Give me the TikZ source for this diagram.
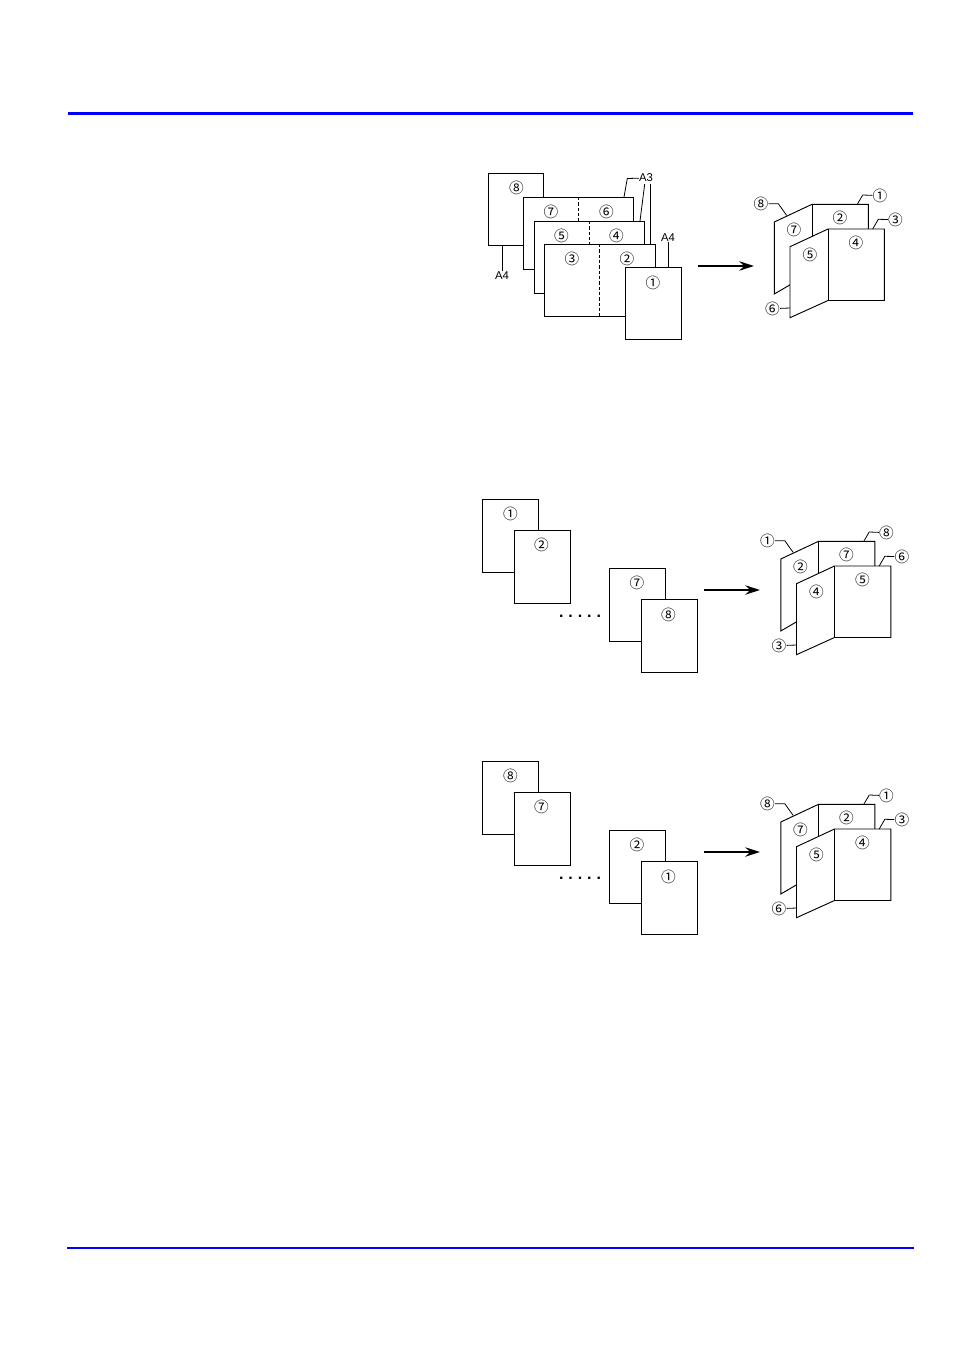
\documentclass[tikz,border=0pt]{standalone}
\usepackage{fontspec}
\setmainfont{Liberation Sans}
\newfontfamily\circfont{Noto Sans CJK JP}
\usetikzlibrary{arrows.meta}
\tikzset{
    pagesheet/.style={rectangle,draw,fill=white,line width=0.7pt,anchor=north west,inner sep=0pt,outer sep=0pt},
    singlesheet/.style={pagesheet,minimum width=41.9pt,minimum height=54.6pt},
    widesheet/.style={pagesheet,minimum width=83.1pt,minimum height=54.4pt},
    pagenum/.style={inner sep=0pt,yshift=-0.5pt,font=\fontsize{11}{11}\circfont},
    sizelabel/.style={inner sep=0pt,font=\fontsize{8.5}{8.5}\selectfont},
    leader/.style={line width=0.6pt},
    fold/.style={line width=0.7pt},
    bigarrow/.style={line width=1.3pt,-{Stealth[length=11pt,width=7pt]}},
    bluerule/.style={draw=blue}
}
% the folded set: outer labels 8 1 3 6, inner labels 7 2 5 4
\newcommand{\foldedset}[8]{
    \coordinate (backleft) at (774.3,222);
    \coordinate (backfold) at (812,204.3);
    \coordinate (backright) at (868.3,204.3);
    \coordinate (frontleft) at (790,246.7);
    \coordinate (frontfold) at (828,229);
    \coordinate (frontright) at (884.3,229);
    \draw[fold,fill=white] (backleft) -- (backfold) -- (backright) -- (868.3,272) -- (812,272) -- (774.3,294) -- cycle;
    \draw[fold] (backfold) -- (812,272);
    \draw[fold,fill=white] (frontleft) -- (frontfold) -- (frontright) -- (884.3,300.5) -- (828,300.5) -- (790,317.7) -- cycle;
    \draw[fold] (frontfold) -- (828,300.5);
    \node[pagenum] (outa) at (761,203) {#1};
    \node[pagenum] (outb) at (880,195) {#2};
    \node[pagenum] (outc) at (895.5,219) {#3};
    \node[pagenum] (outd) at (772.5,308) {#4};
    \node[pagenum] (ina) at (794,229.5) {#5};
    \node[pagenum] (inb) at (840,217.5) {#6};
    \node[pagenum] (inc) at (810,254) {#7};
    \node[pagenum] (ind) at (856,242) {#8};
    \draw[leader] (outa) -- (778.3,203.7) -- (786.7,215.5);
    \draw[leader] (outb) -- (862.7,195) -- (857.3,204.3);
    \draw[leader] (outc) -- (878.3,219.3) -- (872.7,229);
    \draw[leader] (outd) -- (790,308);
}
% two sheets, dots, two sheets
\newcommand{\pagerun}[4]{
    \node[singlesheet] (first) at (482.3,499.3) {};
    \node[singlesheet] (second) at (514.3,530.7) {};
    \node[singlesheet] (third) at (609.7,568.3) {};
    \node[singlesheet] (fourth) at (641.3,599.3) {};
    \node[pagenum] (numa) at (510.5,513.5) {#1};
    \node[pagenum] (numb) at (541.5,544.5) {#2};
    \node[pagenum] (numc) at (637,582.5) {#3};
    \node[pagenum] (numd) at (668.5,614) {#4};
    \node[inner sep=0pt,font=\fontsize{12}{12}\bfseries] (dots) at (580,616.5) {.\hspace{3.7pt}.\hspace{3.7pt}.\hspace{3.7pt}.\hspace{3.7pt}.};
}
\begin{document}
\begin{tikzpicture}[x=0.75pt,y=-0.75pt]
\useasboundingbox (0,0) rectangle (954,1351);
\coordinate (topl) at (68,113.5);
\coordinate (topr) at (913,113.5);
\coordinate (botl) at (67,1248);
\coordinate (botr) at (914,1248);
\draw[bluerule,line width=2.2pt] (topl) -- (topr);
\draw[bluerule,line width=1.4pt] (botl) -- (botr);

% mixed A3 and A4 originals
\node[sizelabel] (athree) at (646,178) {A3};
\node[sizelabel] (afourl) at (502,275.5) {A4};
\node[sizelabel] (afourr) at (668,238) {A4};
\draw[leader] (athree) -- (627.3,178.5) -- (624,197);
\draw[leader] (640,221) -- (644.7,184);
\draw[leader] (650,184) -- (650,244);
\node[singlesheet] (seight) at (488,173) {};
\draw[leader] (afourl) -- (afourl |- seight.south);
\node[widesheet] (ssix) at (523,197) {};
\draw[fold,dashed,dash pattern=on 2.5pt off 1.5pt] (ssix.north) -- (ssix.south);
\node[widesheet] (sfour) at (534,221) {};
\draw[fold,dashed,dash pattern=on 2.5pt off 1.5pt] (sfour.north) -- (sfour.south);
\node[widesheet] (stwo) at (544.3,244) {};
\draw[fold,dashed,dash pattern=on 2.5pt off 1.5pt] (stwo.north) -- (stwo.south);
\node[singlesheet] (sone) at (625.3,267) {};
\draw[leader] (afourr) -- (afourr |- sone.north);
\node[pagenum] (neight) at (516.5,187.5) {⑧};
\node[pagenum] (nseven) at (551,211.5) {⑦};
\node[pagenum] (nsix) at (606.5,211.5) {⑥};
\node[pagenum] (nfive) at (561.5,235) {⑤};
\node[pagenum] (nfour) at (616.5,235) {④};
\node[pagenum] (nthree) at (572,258) {③};
\node[pagenum] (ntwo) at (627,258) {②};
\node[pagenum] (none) at (653,282) {①};
\coordinate (arrowa) at (698,266);
\coordinate (arrowb) at (754,266);
\draw[bigarrow] (arrowa) -- (arrowb);
\foldedset{⑧}{①}{③}{⑥}{⑦}{②}{⑤}{④}

% ascending order
\begin{scope}[name prefix=up-]
    \pagerun{①}{②}{⑦}{⑧}
    \coordinate (arrowa) at (704,590);
    \coordinate (arrowb) at (760,590);
    \draw[bigarrow] (arrowa) -- (arrowb);
\end{scope}
\begin{scope}[name prefix=upset-,shift={(6.5,337)}]
    \foldedset{①}{⑧}{⑥}{③}{②}{⑦}{④}{⑤}
\end{scope}

% descending order
\begin{scope}[name prefix=down-,shift={(0,262)}]
    \pagerun{⑧}{⑦}{②}{①}
    \coordinate (arrowa) at (704,590);
    \coordinate (arrowb) at (760,590);
    \draw[bigarrow] (arrowa) -- (arrowb);
\end{scope}
\begin{scope}[name prefix=downset-,shift={(6.5,600)}]
    \foldedset{⑧}{①}{③}{⑥}{⑦}{②}{⑤}{④}
\end{scope}
\end{tikzpicture}
\end{document}
